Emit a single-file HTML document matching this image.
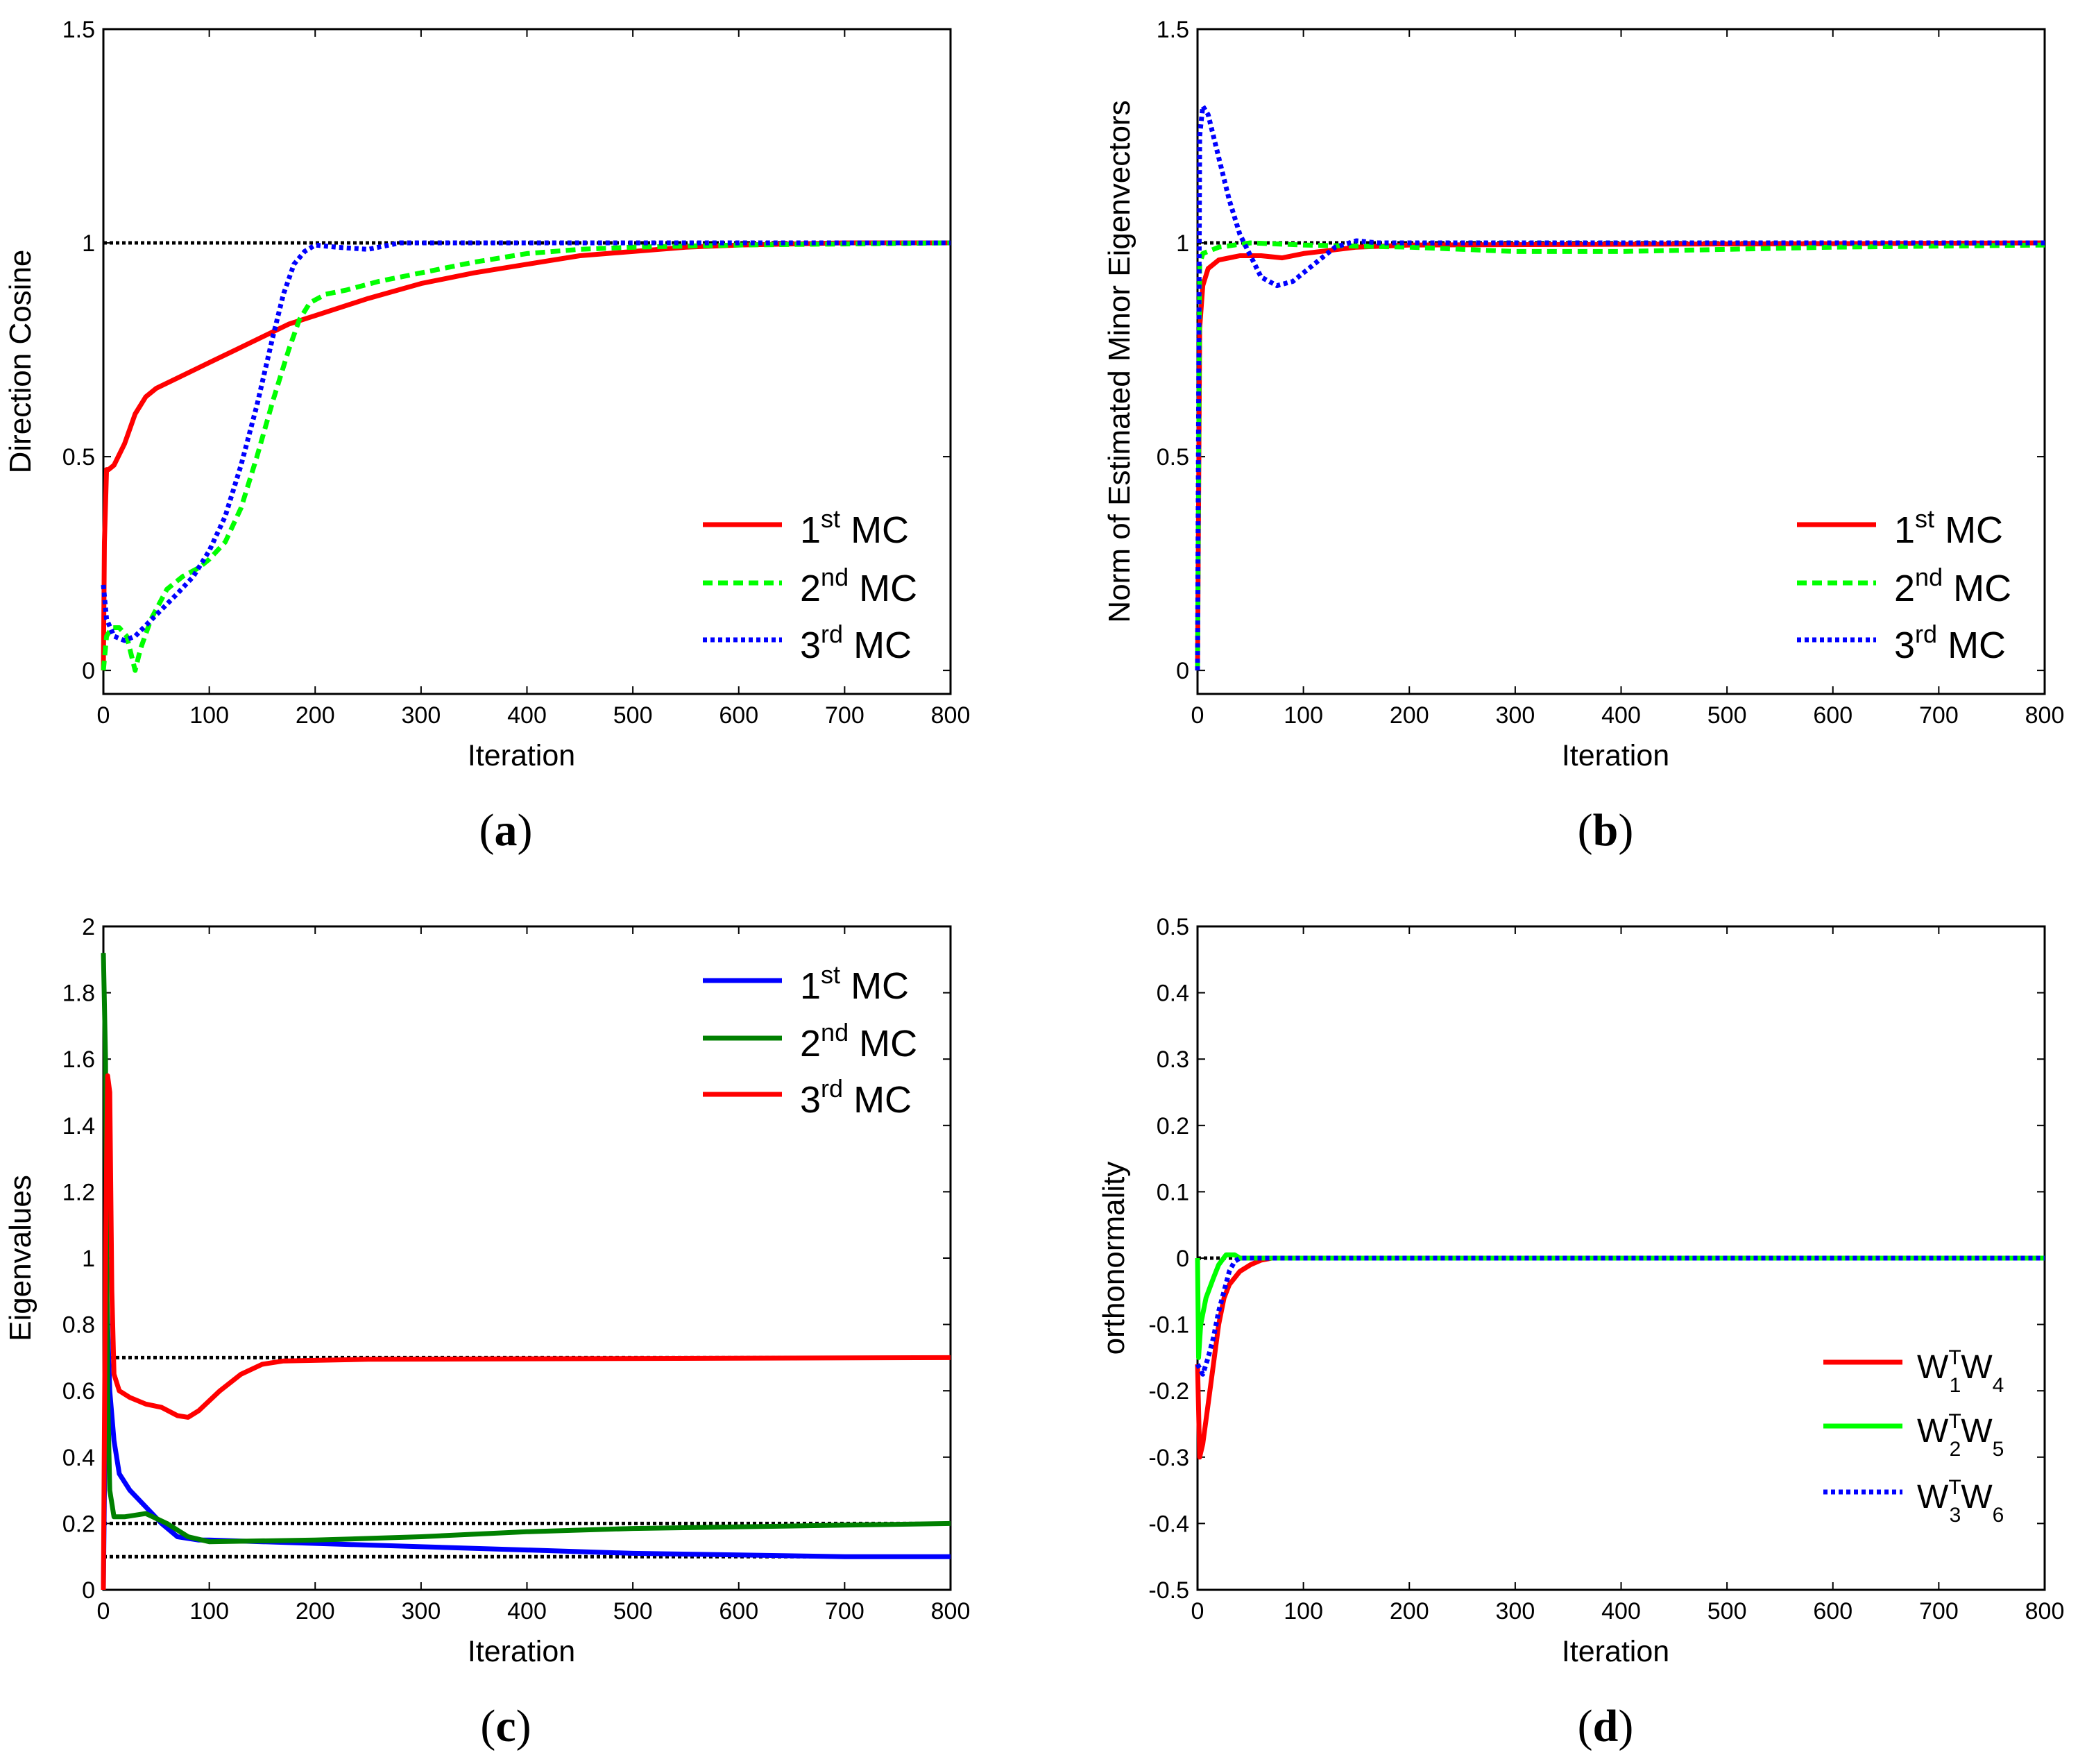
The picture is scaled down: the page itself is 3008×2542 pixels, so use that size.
<!DOCTYPE html>
<html><head><meta charset="utf-8"><style>
html,body{margin:0;padding:0;background:#fff}
svg{display:block}
text{font-family:"Liberation Sans",Arial,sans-serif;fill:#000}
text.serif{font-family:"Liberation Serif","DejaVu Serif",serif}
</style></head>
<body>
<svg id="fig" width="3008" height="2542" viewBox="0 0 3008 2542" xmlns="http://www.w3.org/2000/svg"></svg>
<script>
// Panel (a) data
const aRedX = [0,1,3,5,10,20,30,40,50,75,100,125,150,175,200,250,300,350,400,450,500,550,600,700,800];
const aRedY = [0,0.3,0.47,0.47,0.48,0.53,0.6,0.64,0.66,0.69,0.72,0.75,0.78,0.81,0.83,0.87,0.905,0.93,0.95,0.97,0.98,0.99,0.995,1,1];
const aGreenX = [0,3,8,15,22,27,30,35,45,60,75,90,100,115,130,145,160,175,185,195,210,230,260,300,350,400,450,500,600,800];
const aGreenY = [0,0.08,0.1,0.1,0.08,0.03,0,0.05,0.12,0.19,0.22,0.24,0.26,0.3,0.38,0.5,0.63,0.75,0.82,0.86,0.88,0.89,0.91,0.93,0.955,0.975,0.985,0.99,0.995,1];
const aBlueX = [0,3,10,20,30,50,70,85,100,115,130,145,160,170,180,190,200,220,250,280,800];
const aBlueY = [0.2,0.12,0.08,0.07,0.08,0.13,0.18,0.22,0.28,0.36,0.48,0.62,0.78,0.88,0.95,0.98,0.995,0.99,0.985,1,1];
// Panel (b) data
const bRedX = [0,2,5,10,20,40,60,80,100,150,200,800];
const bRedY = [0,0.8,0.9,0.94,0.96,0.97,0.97,0.965,0.975,0.99,0.995,1];
const bGreenX = [0,2,5,20,50,100,200,300,400,500,600,800];
const bGreenY = [0,0.95,0.975,0.99,1,0.995,0.99,0.98,0.98,0.985,0.99,0.995];
const bBlueX = [0,2,5,10,20,30,40,50,60,75,90,110,130,150,170,800];
const bBlueY = [0,1.25,1.32,1.3,1.2,1.1,1.02,0.97,0.92,0.9,0.91,0.95,0.99,1.005,1,1];
// Panel (c) data
const cBlueX = [0,3,6,10,15,25,40,55,70,90,100,200,300,400,500,600,700,800];
const cBlueY = [0,0.9,0.6,0.45,0.35,0.3,0.25,0.2,0.16,0.15,0.15,0.14,0.13,0.12,0.11,0.105,0.1,0.1];
const cGreenX = [0,2,4,6,10,20,40,60,80,100,200,300,400,500,600,700,800];
const cGreenY = [1.92,1.6,0.6,0.3,0.22,0.22,0.23,0.2,0.16,0.145,0.15,0.16,0.175,0.185,0.19,0.195,0.2];
const cRedX = [0,2,4,6,8,10,15,25,40,55,70,80,90,110,130,150,170,250,800];
const cRedY = [0,1.0,1.55,1.5,0.9,0.65,0.6,0.58,0.56,0.55,0.525,0.52,0.54,0.6,0.65,0.68,0.69,0.695,0.7];
const cRefs = [0.7,0.2,0.1];
// Panel (d) data
const dRedX = [0,2,5,10,15,20,25,30,40,50,60,70,800];
const dRedY = [-0.16,-0.3,-0.28,-0.22,-0.16,-0.1,-0.06,-0.04,-0.02,-0.01,-0.003,0,0];
const dGreenX = [0,1,3,8,15,20,27,35,40,800];
const dGreenY = [0,-0.15,-0.1,-0.06,-0.03,-0.01,0.005,0.005,0,0];
const dBlueX = [0,5,10,15,20,25,30,35,40,800];
const dBlueY = [-0.16,-0.175,-0.15,-0.12,-0.08,-0.05,-0.02,-0.005,0,0];
const xTicks = [0,100,200,300,400,500,600,700,800];
const abTicks = [0,0.5,1,1.5];
const abTickLabels = ['0','0.5','1','1.5'];
const cTicks = [0,0.2,0.4,0.6,0.8,1,1.2,1.4,1.6,1.8,2];
const cTickLabels = ['0','0.2','0.4','0.6','0.8','1','1.2','1.4','1.6','1.8','2'];
const dTicks = [-0.5,-0.4,-0.3,-0.2,-0.1,0,0.1,0.2,0.3,0.4,0.5];
const dTickLabels = ['-0.5','-0.4','-0.3','-0.2','-0.1','0','0.1','0.2','0.3','0.4','0.5'];

const NS='http://www.w3.org/2000/svg';
const svg=document.getElementById('fig');
function mk(tag,attrs,parent){const e=document.createElementNS(NS,tag);for(const k in attrs)e.setAttribute(k,attrs[k]);(parent||svg).appendChild(e);return e;}
const STY={
 solid:{w:7,d:''},
 dash:{w:7,d:'14 8'},
 dot:{w:7,d:'6 5'}
};
function panel(id,L,T,R,B,ymin,ymax,yt,ytl,ylabRight,ytitle,ytitleX,letter,letterX){
 const g=mk('g',{});
 
 
 const sx=v=>L+(v-0)/(800-0)*(R-L);
 const sy=v=>B-(v-ymin)/(ymax-ymin)*(B-T);
 const box=mk('rect',{x:L,y:T,width:R-L,height:B-T,fill:'none',stroke:'#000','stroke-width':3},g);
 
 
 xTicks.forEach(v=>{
  const x=sx(v);
  mk('line',{x1:x,y1:B,x2:x,y2:B-11,stroke:'#000','stroke-width':2},g);
  mk('line',{x1:x,y1:T,x2:x,y2:T+11,stroke:'#000','stroke-width':2},g);
  const t=mk('text',{x:x,y:B+42,'text-anchor':'middle','font-size':34},g);
  t.textContent=v;
  
  
 });
 yt.forEach((v,i)=>{
  const y=sy(v);
  mk('line',{x1:L,y1:y,x2:L+11,y2:y,stroke:'#000','stroke-width':2},g);
  mk('line',{x1:R,y1:y,x2:R-11,y2:y,stroke:'#000','stroke-width':2},g);
  const t=mk('text',{x:ylabRight,y:y+12,'text-anchor':'end','font-size':34},g);
  t.textContent=ytl[i];
  
  
 });
 const xt=mk('text',{x:(L+R)/2-8,y:B+103,'text-anchor':'middle','font-size':43},g);
 xt.textContent='Iteration';
 
 
 const cy=(T+B)/2;
 const yt2=mk('text',{x:ytitleX,y:cy,'text-anchor':'middle','font-size':44,transform:'rotate(-90 '+ytitleX+' '+cy+')'},g);
 yt2.textContent=ytitle;
 
 
 const lt=mk('text',{x:letterX,y:B+218,'text-anchor':'middle','font-size':66,'class':'serif'},g);
 lt.innerHTML='(<tspan font-weight="bold">'+letter+'</tspan>)';
 
 
 return {g,sx,sy,L,R,T,B};
}
function series(p,xs,ys,color,sty,name){
 const pts=xs.map((x,i)=>p.sx(x).toFixed(1)+','+p.sy(ys[i]).toFixed(1)).join(' ');
 const s=STY[sty];
 const e=mk('polyline',{points:pts,fill:'none',stroke:color,'stroke-width':s.w,'stroke-linejoin':'round','stroke-dasharray':s.d},p.g);
 
 
}
function refLine(p,v,name){
 const e=mk('line',{x1:p.L,x2:p.R,y1:p.sy(v),y2:p.sy(v),stroke:'#000','stroke-width':5,'stroke-dasharray':'5 4'},p.g);
 
 
}
function legend(p,x1,x2,tx,ys,items,fs){
 const lg=mk('g',{},p.g);
 
 
 items.forEach((it,i)=>{
  const s=STY[it.sty];
  const l=mk('line',{x1:x1,x2:x2,y1:ys[i],y2:ys[i],stroke:it.color,'stroke-width':7,'stroke-dasharray':s.d},lg);
  
  
  const t=mk('text',{x:tx,y:ys[i]+fs*0.48,'font-size':fs},lg);
  t.innerHTML=it.html;
  
  
 });
}
const mcItems=(c1,s1,c2,s2,c3,s3)=>[
 {color:c1,sty:s1,html:'1<tspan dy="-22" font-size="36">st</tspan><tspan dy="22"> MC</tspan>'},
 {color:c2,sty:s2,html:'2<tspan dy="-22" font-size="36">nd</tspan><tspan dy="22"> MC</tspan>'},
 {color:c3,sty:s3,html:'3<tspan dy="-22" font-size="36">rd</tspan><tspan dy="22"> MC</tspan>'}];

// Panel a
const pa=panel('a',149,42,1370,1000,-0.055,1.5,abTicks,abTickLabels,137,'Direction Cosine',44,'a',729);
refLine(pa,1,'reference-line-1');
series(pa,aRedX,aRedY,'#ff0000','solid','series-1st-mc');
series(pa,aGreenX,aGreenY,'#00ff00','dash','series-2nd-mc');
series(pa,aBlueX,aBlueY,'#0000ff','dot','series-3rd-mc');
legend(pa,1013,1127,1153,[756,840,922],mcItems('#ff0000','solid','#00ff00','dash','#0000ff','dot'),54);

// Panel b
const pb=panel('b',1726,42,2947,1000,-0.055,1.5,abTicks,abTickLabels,1714,'Norm of Estimated Minor Eigenvectors',1628,'b',2314);
refLine(pb,1,'reference-line-1');
series(pb,bRedX,bRedY,'#ff0000','solid','series-1st-mc');
series(pb,bGreenX,bGreenY,'#00ff00','dash','series-2nd-mc');
series(pb,bBlueX,bBlueY,'#0000ff','dot','series-3rd-mc');
legend(pb,2590,2704,2730,[756,840,922],mcItems('#ff0000','solid','#00ff00','dash','#0000ff','dot'),54);

// Panel c
const pc=panel('c',149,1335,1370,2291,0,2,cTicks,cTickLabels,137,'Eigenvalues',44,'c',729);
cRefs.forEach(v=>refLine(pc,v,'reference-line'));
series(pc,cBlueX,cBlueY,'#0000ff','solid','series-1st-mc');
series(pc,cGreenX,cGreenY,'#008000','solid','series-2nd-mc');
series(pc,cRedX,cRedY,'#ff0000','solid','series-3rd-mc');
legend(pc,1013,1127,1153,[1413,1496,1577],mcItems('#0000ff','solid','#008000','solid','#ff0000','solid'),54);

// Panel d
const pd=panel('d',1726,1335,2947,2291,-0.5,0.5,dTicks,dTickLabels,1714,'orthonormality',1620,'d',2314);
refLine(pd,0,'reference-line-0');
series(pd,dRedX,dRedY,'#ff0000','solid','series-w1w4');
series(pd,dGreenX,dGreenY,'#00ff00','solid','series-w2w5');
series(pd,dBlueX,dBlueY,'#0000ff','dot','series-w3w6');
const wItems=[
 {color:'#ff0000',sty:'solid',html:'W<tspan dy="-20" font-size="30">T</tspan><tspan dx="-17" dy="40" font-size="30">1</tspan><tspan dy="-20">W</tspan><tspan dy="20" font-size="30">4</tspan>'},
 {color:'#00ff00',sty:'solid',html:'W<tspan dy="-20" font-size="30">T</tspan><tspan dx="-17" dy="40" font-size="30">2</tspan><tspan dy="-20">W</tspan><tspan dy="20" font-size="30">5</tspan>'},
 {color:'#0000ff',sty:'dot',html:'W<tspan dy="-20" font-size="30">T</tspan><tspan dx="-17" dy="40" font-size="30">3</tspan><tspan dy="-20">W</tspan><tspan dy="20" font-size="30">6</tspan>'}];
legend(pd,2628,2742,2763,[1963,2055,2150],wItems,48);
</script>
</body></html>
